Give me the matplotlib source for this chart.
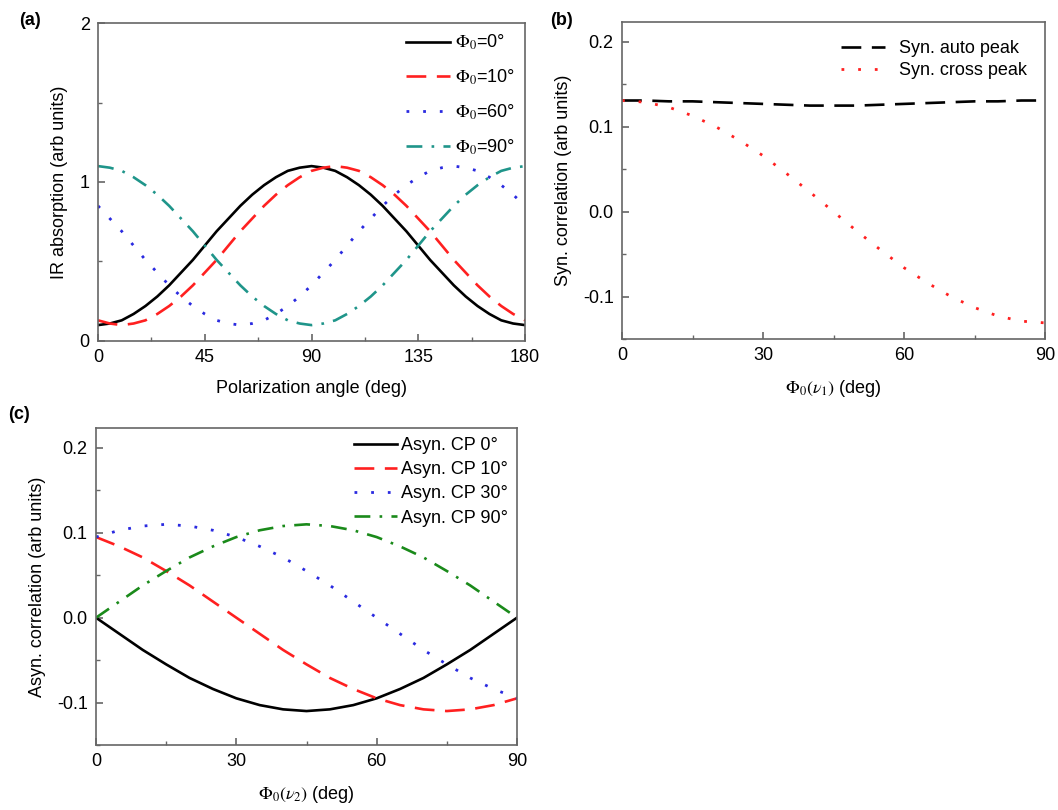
import matplotlib
matplotlib.use("Agg")
import matplotlib.pyplot as plt
from matplotlib.ticker import MultipleLocator

plt.rcParams['font.family'] = ['Liberation Sans', 'DejaVu Sans']
plt.rcParams['mathtext.fontset'] = 'stix'
plt.rcParams['axes.unicode_minus'] = False

# (a) IR absorption vs polarization angle, read every 5 deg
pol_angle = list(range(0, 181, 5))
phi0_0 = [0.10, 0.11, 0.13, 0.17, 0.22, 0.28, 0.35, 0.43, 0.51, 0.60, 0.69, 0.77, 0.85,
          0.92, 0.98, 1.03, 1.07, 1.09, 1.10, 1.09, 1.07, 1.03, 0.98, 0.92, 0.85, 0.77,
          0.69, 0.60, 0.51, 0.43, 0.35, 0.28, 0.22, 0.17, 0.13, 0.11, 0.10]
phi0_10 = [0.13, 0.11, 0.10, 0.11, 0.13, 0.17, 0.22, 0.28, 0.35, 0.43, 0.51, 0.60, 0.69,
           0.77, 0.85, 0.92, 0.98, 1.03, 1.07, 1.09, 1.10, 1.09, 1.07, 1.03, 0.98, 0.92,
           0.85, 0.77, 0.69, 0.60, 0.51, 0.43, 0.35, 0.28, 0.22, 0.17, 0.13]
phi0_60 = [0.85, 0.77, 0.69, 0.60, 0.51, 0.43, 0.35, 0.28, 0.22, 0.17, 0.13, 0.11, 0.10,
           0.11, 0.13, 0.17, 0.22, 0.28, 0.35, 0.43, 0.51, 0.60, 0.69, 0.77, 0.85, 0.92,
           0.98, 1.03, 1.07, 1.09, 1.10, 1.09, 1.07, 1.03, 0.98, 0.92, 0.85]
phi0_90 = [1.10, 1.09, 1.07, 1.03, 0.98, 0.92, 0.85, 0.77, 0.69, 0.60, 0.51, 0.43, 0.35,
           0.28, 0.22, 0.17, 0.13, 0.11, 0.10, 0.11, 0.13, 0.17, 0.22, 0.28, 0.35, 0.43,
           0.51, 0.60, 0.69, 0.77, 0.85, 0.92, 0.98, 1.03, 1.07, 1.09, 1.10]

# (b) and (c) share the Phi0 axis, read every 5 deg
phi = list(range(0, 91, 5))
syn_auto = [0.131, 0.131, 0.130, 0.130, 0.129, 0.128, 0.127, 0.126, 0.125, 0.125,
            0.125, 0.126, 0.127, 0.128, 0.129, 0.130, 0.130, 0.131, 0.131]
syn_cross = [0.131, 0.129, 0.123, 0.113, 0.100, 0.084, 0.066, 0.045, 0.023, 0.000,
             -0.023, -0.045, -0.066, -0.084, -0.100, -0.113, -0.123, -0.129, -0.131]

asyn_cp0 = [0.000, -0.019, -0.038, -0.055, -0.071, -0.084, -0.095, -0.103, -0.108, -0.110,
            -0.108, -0.103, -0.095, -0.084, -0.071, -0.055, -0.038, -0.019, 0.000]
asyn_cp10 = [0.095, 0.084, 0.071, 0.055, 0.038, 0.019, 0.000, -0.019, -0.038, -0.055,
             -0.071, -0.084, -0.095, -0.103, -0.108, -0.110, -0.108, -0.103, -0.095]
asyn_cp30 = [0.095, 0.103, 0.108, 0.110, 0.108, 0.103, 0.095, 0.084, 0.071, 0.055,
             0.038, 0.019, 0.000, -0.019, -0.038, -0.055, -0.071, -0.084, -0.095]
asyn_cp90 = [0.000, 0.019, 0.038, 0.055, 0.071, 0.084, 0.095, 0.103, 0.108, 0.110,
             0.108, 0.103, 0.095, 0.084, 0.071, 0.055, 0.038, 0.019, 0.000]

FS = 13
SPINE = '#666666'
DASH = (0, (7.5, 4))
DOT = (0, (1, 5))
DASHDOT = (0, (6, 3.5, 1, 3.5))
W, H = 1058, 810


def px_axes(left, top, right, bottom):
    # axes box from pixel edges measured on the reference
    return [left / W, 1 - bottom / H, (right - left) / W, (bottom - top) / H]


def style_axes(ax):
    for s in ax.spines.values():
        s.set_color(SPINE)
        s.set_linewidth(1.2)
    ax.tick_params(which='both', direction='in', top=False, right=False,
                   color=SPINE, labelsize=FS, pad=6)
    ax.tick_params(which='major', length=5, width=1.2)
    ax.tick_params(which='minor', length=3, width=1.0)


fig = plt.figure(figsize=(10.58, 8.10), dpi=100)

# panel (a)
ax1 = fig.add_axes(px_axes(98, 23, 525, 341))
ax1.plot(pol_angle, phi0_0, color='black', lw=1.9, label=r'$\Phi_0$=0°')
ax1.plot(pol_angle, phi0_10, color='#ff2020', lw=1.9, ls=DASH, label=r'$\Phi_0$=10°')
ax1.plot(pol_angle, phi0_60, color='#2a2ae0', lw=2.0, ls=DOT, label=r'$\Phi_0$=60°')
ax1.plot(pol_angle, phi0_90, color='#1f958a', lw=1.9, ls=DASHDOT, label=r'$\Phi_0$=90°')
ax1.set_xlim(0, 180)
ax1.set_ylim(0, 2)
ax1.xaxis.set_major_locator(MultipleLocator(45))
ax1.xaxis.set_minor_locator(MultipleLocator(22.5))
ax1.yaxis.set_major_locator(MultipleLocator(1))
ax1.yaxis.set_minor_locator(MultipleLocator(0.5))
ax1.set_xlabel('Polarization angle (deg)', fontsize=FS, labelpad=10)
ax1.set_ylabel('IR absorption (arb units)', fontsize=FS, labelpad=8)
style_axes(ax1)
ax1.legend(loc='upper right', frameon=False, fontsize=FS, handlelength=2.4,
           labelspacing=0.85, handletextpad=0.3, borderaxespad=0.15)
fig.text(0.018, 0.975, '(a)', fontsize=FS, fontweight='bold', va='center')

# panel (b)
ax2 = fig.add_axes(px_axes(622, 22, 1045, 339))
ax2.plot(phi, syn_auto, color='black', lw=1.9, ls=DASH, label='Syn. auto peak')
ax2.plot(phi, syn_cross, color='#ff2020', lw=2.0, ls=DOT, label='Syn. cross peak')
ax2.set_xlim(0, 90)
ax2.set_ylim(-0.15, 0.2235)
ax2.xaxis.set_major_locator(MultipleLocator(30))
ax2.xaxis.set_minor_locator(MultipleLocator(15))
ax2.yaxis.set_major_locator(MultipleLocator(0.1))
ax2.yaxis.set_minor_locator(MultipleLocator(0.05))
ax2.set_xlabel(r'$\Phi_0(\nu_1)$ (deg)', fontsize=FS, labelpad=10)
ax2.set_ylabel('Syn. correlation (arb units)', fontsize=FS, labelpad=8)
style_axes(ax2)
ax2.legend(loc='upper right', frameon=False, fontsize=FS, handlelength=2.4,
           labelspacing=0.3, handletextpad=0.8, borderaxespad=0.6)
fig.text(0.520, 0.975, '(b)', fontsize=FS, fontweight='bold', va='center')

# panel (c)
ax3 = fig.add_axes(px_axes(96, 428, 517, 745))
ax3.plot(phi, asyn_cp0, color='black', lw=1.9, label='Asyn. CP 0°')
ax3.plot(phi, asyn_cp10, color='#ff2020', lw=1.9, ls=DASH, label='Asyn. CP 10°')
ax3.plot(phi, asyn_cp30, color='#2a2ae0', lw=2.0, ls=DOT, label='Asyn. CP 30°')
ax3.plot(phi, asyn_cp90, color='#1a8a1a', lw=1.9, ls=DASHDOT, label='Asyn. CP 90°')
ax3.set_xlim(0, 90)
ax3.set_ylim(-0.15, 0.2235)
ax3.xaxis.set_major_locator(MultipleLocator(30))
ax3.xaxis.set_minor_locator(MultipleLocator(15))
ax3.yaxis.set_major_locator(MultipleLocator(0.1))
ax3.yaxis.set_minor_locator(MultipleLocator(0.05))
ax3.set_xlabel(r'$\Phi_0(\nu_2)$ (deg)', fontsize=FS, labelpad=10)
ax3.set_ylabel('Asyn. correlation (arb units)', fontsize=FS, labelpad=8)
style_axes(ax3)
ax3.legend(loc='upper right', frameon=False, fontsize=FS, handlelength=2.4,
           labelspacing=0.4, handletextpad=0.2, borderaxespad=0.1)
fig.text(0.008, 0.488, '(c)', fontsize=FS, fontweight='bold', va='center')

fig.savefig('out.png', dpi=100)
